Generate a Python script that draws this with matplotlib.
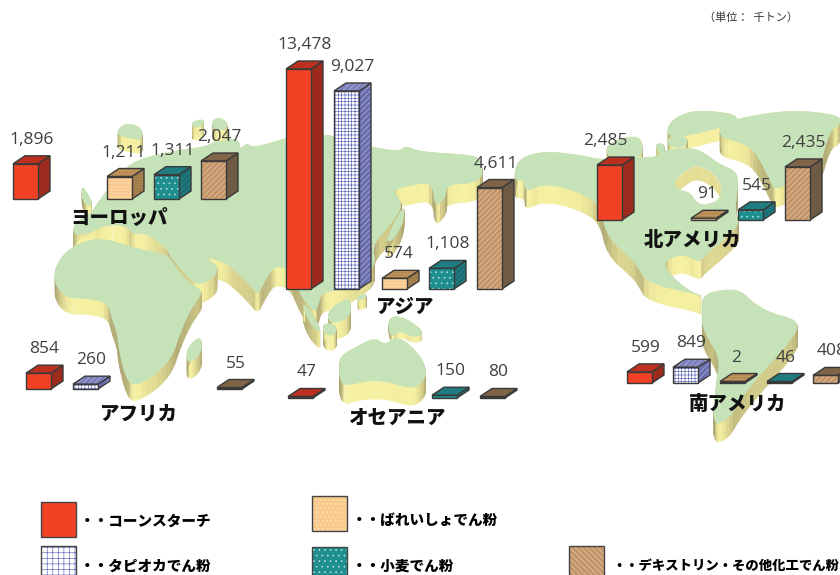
# 世界のでん粉生産量マップ
import numpy as np
import matplotlib
matplotlib.use("Agg")
import matplotlib.pyplot as plt
from matplotlib.patches import Polygon, Rectangle

plt.rcParams['font.family'] = ['Noto Sans CJK JP', 'DejaVu Sans']
plt.rcParams['hatch.linewidth'] = 0.45

# データ(千トン): 欧州, アフリカ, アジア, オセアニア, 北米, 南米 の順で品目ごと
corn = [1896, 854, 13478, 47, 2485, 599]
potato = [1211, 574, 91, 2]
tapioca = [260, 9027, 849]
wheat = [1311, 1108, 150, 545, 46]
dextrin = [2047, 55, 4611, 80, 2435, 408]

regions = ["ヨーロッパ", "アフリカ", "アジア", "オセアニア", "北アメリカ", "南アメリカ"]
series_names = ["・・コーンスターチ", "・・ばれいしょでん粉", "・・タピオカでん粉",
                "・・小麦でん粉", "・・デキストリン・その他化工でん粉"]

# 棒の置き場所(左端x, 底辺y)
corn_pos = [(13, 199), (26, 389), (286, 289), (288, 398), (597, 220), (627, 383)]
potato_pos = [(107, 199), (382, 289), (691, 220), (720, 383)]
tapioca_pos = [(73, 389), (334, 289), (673, 383)]
wheat_pos = [(154, 199), (429, 289), (432, 398), (738, 220), (767, 383)]
dextrin_pos = [(201, 199), (217, 389), (477, 289), (480, 398), (785, 220), (813, 383)]

# 値→棒の高さ(元図の軸は線形でないので折れ線で合わせる)
scale_v = [0, 2047, 2485, 9027, 13478]
scale_h = [0, 38, 55, 198, 220]

# 地図の輪郭(図のピクセル座標)、最後が厚み
land = [
    # ユーラシア
    ([(100, 200), (118, 177), (135, 160), (180, 150), (205, 147), (215, 142), (238, 138), (240, 150),
      (247, 143), (252, 148), (275, 142), (286, 138), (325, 133), (360, 145), (400, 152), (405, 146),
      (420, 152), (470, 155), (482, 160), (482, 182), (445, 185), (447, 195), (435, 208), (433, 182),
      (410, 185), (392, 190), (398, 197), (402, 207), (390, 225), (372, 245), (376, 265), (360, 278),
      (340, 290), (322, 292), (318, 305), (315, 312), (305, 302), (298, 288), (290, 270), (275, 265),
      (265, 280), (258, 295), (250, 285), (235, 270), (225, 262), (203, 256), (222, 270), (200, 287),
      (186, 275), (170, 256), (167, 248), (145, 232), (135, 235), (125, 225), (105, 225), (90, 233),
      (73, 235), (75, 222), (90, 215)], 19),
    # アフリカ
    ([(55, 267), (70, 247), (100, 237), (133, 248), (167, 255), (172, 262), (185, 280), (200, 290),
      (202, 293), (190, 310), (180, 333), (172, 357), (155, 375), (133, 387), (125, 375), (118, 345),
      (118, 335), (112, 318), (108, 302), (85, 298), (67, 298), (55, 285)], 16),
    # マダガスカル
    ([(187, 350), (195, 340), (201, 338), (202, 350), (195, 360), (187, 362)], 17),
    # 島々(北)
    ([(118, 130), (125, 124), (135, 125), (142, 130), (142, 140), (130, 138), (118, 135)], 14),
    ([(192, 122), (203, 119), (204, 125), (193, 128)], 13),
    ([(212, 122), (218, 117), (227, 122), (227, 130), (214, 130)], 13),
    ([(82, 186), (88, 195), (93, 205), (85, 205), (82, 195)], 10),
    # 日本
    ([(405, 207), (402, 225), (393, 240), (386, 242), (393, 225), (400, 212)], 15),
    # 東南アジア
    ([(302, 303), (310, 310), (321, 330), (318, 332), (308, 320)], 16),
    ([(328, 313), (338, 303), (350, 298), (351, 315), (340, 322), (329, 322)], 17),
    ([(323, 323), (336, 325), (336, 335), (324, 335)], 15),
    ([(358, 296), (366, 294), (366, 298), (358, 300)], 10),
    # オーストラリア
    ([(339, 365), (342, 355), (360, 345), (375, 338), (385, 345), (395, 338), (403, 340), (415, 350),
      (425, 365), (426, 378), (415, 388), (402, 386), (390, 382), (370, 380), (345, 386), (340, 380)], 18),
    ([(388, 318), (402, 316), (425, 332), (415, 338), (400, 330), (390, 338)], 6),
    # 北米
    ([(515, 172), (520, 158), (545, 151), (585, 156), (600, 160), (640, 157), (655, 158), (665, 150),
      (685, 148), (700, 150), (720, 165), (738, 172), (737, 195), (735, 208), (738, 220), (737, 227),
      (720, 243), (703, 257), (700, 262), (683, 254), (664, 260), (667, 272), (687, 290), (703, 297),
      (697, 294), (647, 283), (638, 267), (633, 260), (607, 237), (600, 205), (580, 192), (545, 183),
      (525, 192), (525, 180), (515, 180)], 18),
    # 南米
    ([(703, 295), (722, 290), (740, 290), (753, 303), (770, 313), (797, 320), (797, 333), (767, 367),
      (753, 383), (740, 400), (728, 420), (712, 425), (717, 380), (720, 357), (703, 330), (702, 313)], 19),
    # 北極圏・グリーンランド
    ([(668, 125), (680, 115), (700, 110), (740, 115), (730, 125), (710, 130), (690, 135), (668, 137)], 13),
    ([(720, 125), (740, 118), (790, 110), (840, 115), (840, 125), (830, 130), (820, 165), (810, 175),
      (790, 182), (775, 190), (770, 180), (755, 150), (740, 142), (720, 137)], 19),
    ([(607, 145), (625, 137), (640, 137), (643, 150), (640, 157), (607, 157)], 8),
    ([(655, 145), (663, 143), (665, 150), (660, 155)], 11),
    ([(668, 137), (687, 136), (687, 147), (668, 147)], 6),
]
hudson = [(697, 165), (687, 170), (673, 182), (678, 190), (690, 192), (697, 203), (705, 205),
          (720, 200), (722, 185), (712, 172)]

# 品目ごとの色(正面, 側面, 上面, 正面の模様, 模様の色, 側面の模様, 側面模様の色, 凡例の模様)
styles = {
    "corn": ("#F04124", "#9C2B1E", "#BC3020", "", None, "", None, ""),
    "potato": ("#F9C98A", "#A8824E", "#C2965C", "ooooo", "#FAD7A8", "......", "#8E6C3E", "oooo"),
    "tapioca": ("#FFFFFF", "#6A6CB0", "#7C7EBC", "+++++", "#5A64B8", "//////", "#B8BCE0", "+++"),
    "wheat": ("#1E8E8E", "#1B6E72", "#1E7A7E", "...", "#BFE5E0", "//////", "#2A8A8E", "..."),
    "dextrin": ("#C49468", "#6E5A45", "#806448", "//////", "#E8D0B0", "", None, "\\\\\\\\\\\\"),
}


def smooth(pts, n=2):
    # 角を丸める
    pts = np.array(pts, dtype=float)
    for _ in range(n):
        nxt = np.roll(pts, -1, axis=0)
        pts = np.column_stack([0.75 * pts + 0.25 * nxt, 0.25 * pts + 0.75 * nxt]).reshape(-1, 2)
    return pts


def side_color(nx):
    # 横向きの面ほど暗い
    a = np.array([0xF6, 0xF1, 0xA2])
    b = np.array([0xAC, 0xA4, 0x70])
    c = a + (b - a) * min(abs(nx) ** 2.5, 1)
    return c / 255


def draw_walls(ax, pts, d):
    nxt = np.roll(pts, -1, axis=0)
    for p, q in zip(pts, nxt):
        dx, dy = q - p
        ln = np.hypot(dx, dy) + 1e-6
        col = side_color(dy / ln)
        ax.add_patch(Polygon([p, q, q + [0, d], p + [0, d]], closed=True, fc=col, ec=col, lw=0.4, zorder=1))


def draw_bar(ax, x, base, value, style, label_dx=6):
    front, side, top, hatch, hatch_col, side_hatch, side_col, _ = styles[style]
    h = max(np.interp(value, scale_v, scale_h), 1.5)
    w, dx, dy = 25, 12, 8
    t = base - h
    ec = "#3A3A3A"
    side_pts = [(x + w, base), (x + w + dx, base - dy), (x + w + dx, t - dy), (x + w, t)]
    top_pts = [(x, t), (x + dx, t - dy), (x + w + dx, t - dy), (x + w, t)]
    for pts, col in [(side_pts, side), (top_pts, top)]:
        ax.add_patch(Polygon(pts, fc=col, ec="none", zorder=3))
        if side_hatch:
            ax.add_patch(Polygon(pts, fc="none", ec=side_col, hatch=side_hatch, lw=0, zorder=3))
        ax.add_patch(Polygon(pts, fc="none", ec=ec, lw=1, zorder=3))
    ax.add_patch(Rectangle((x, t), w, h, fc=front, ec="none", zorder=3))
    if hatch:
        ax.add_patch(Rectangle((x, t), w, h, fc="none", ec=hatch_col, hatch=hatch, lw=0, zorder=3))
    ax.add_patch(Rectangle((x, t), w, h, fc="none", ec=ec, lw=1, zorder=3))
    ax.text(x + w / 2 + label_dx, t - dy - 16, f"{value:,}", ha="center", va="center", fontsize=12.5,
            family=["Open Sans", "DejaVu Sans"], color="#404040", zorder=5)


fig = plt.figure(figsize=(8.4, 5.75), dpi=100)
ax = fig.add_axes([0, 0, 1, 1])
ax.set_xlim(0, 840)
ax.set_ylim(575, 0)
ax.axis("off")

# 地図
for outline, depth in land:
    draw_walls(ax, smooth(outline), depth)
for outline, depth in land:
    ax.add_patch(Polygon(smooth(outline), closed=True, fc="#C5E2B8", ec="#C5E2B8", lw=0.5, zorder=2))

# ハドソン湾
bay = Polygon(smooth(hudson), closed=True, fc="white", ec="none", zorder=2.1)
ax.add_patch(bay)
bay_pts = smooth(hudson)
for p, q in zip(bay_pts, np.roll(bay_pts, -1, axis=0)):
    wall = Polygon([p, q, q + [0, 14], p + [0, 14]], closed=True, fc="#E4DC90", ec="none", zorder=2.2)
    ax.add_patch(wall)
    wall.set_clip_path(bay)

# 棒
for v, (x, y) in zip(corn, corn_pos):
    draw_bar(ax, x, y, v, "corn", label_dx=-4 if v == 2485 else 6)
for v, (x, y) in zip(potato, potato_pos):
    draw_bar(ax, x, y, v, "potato", label_dx=4)
for v, (x, y) in zip(tapioca, tapioca_pos):
    draw_bar(ax, x, y, v, "tapioca")
for v, (x, y) in zip(wheat, wheat_pos):
    draw_bar(ax, x, y, v, "wheat")
for v, (x, y) in zip(dextrin, dextrin_pos):
    draw_bar(ax, x, y, v, "dextrin")

# 地域名
region_xy = [(119, 218), (139, 414), (405, 307), (397, 418), (693, 240), (738, 404)]
for name, (x, y) in zip(regions, region_xy):
    ax.text(x, y, name, ha="center", va="center", fontsize=14, fontweight=900, color="#111111", zorder=6)

ax.text(751, 18, "（単位：  千トン）", ha="center", va="center", fontsize=8, color="#333333")

# 凡例
legend_xy = [(41, 502, 80, 521), (312, 496, 352, 520), (41, 546, 80, 566), (312, 547, 352, 566), (569, 546, 612, 566)]
legend_style = ["corn", "potato", "tapioca", "wheat", "dextrin"]
legend_size = [10.5, 10.5, 10.5, 10.5, 9.6]
for name, st, fs, (bx, by, tx, ty) in zip(series_names, legend_style, legend_size, legend_xy):
    front, hatch_col, leg_hatch = styles[st][0], styles[st][4], styles[st][7]
    ax.add_patch(Rectangle((bx, by), 35, 35, fc=front, ec="none", zorder=3))
    if leg_hatch:
        ax.add_patch(Rectangle((bx, by), 35, 35, fc="none", ec=hatch_col, hatch=leg_hatch, lw=0, zorder=3))
    ax.add_patch(Rectangle((bx, by), 35, 35, fc="none", ec="#444444", lw=1, zorder=3))
    ax.text(tx, ty, name, ha="left", va="center", fontsize=fs, fontweight=900, color="black", zorder=6)

fig.savefig("out.png", dpi=100)
